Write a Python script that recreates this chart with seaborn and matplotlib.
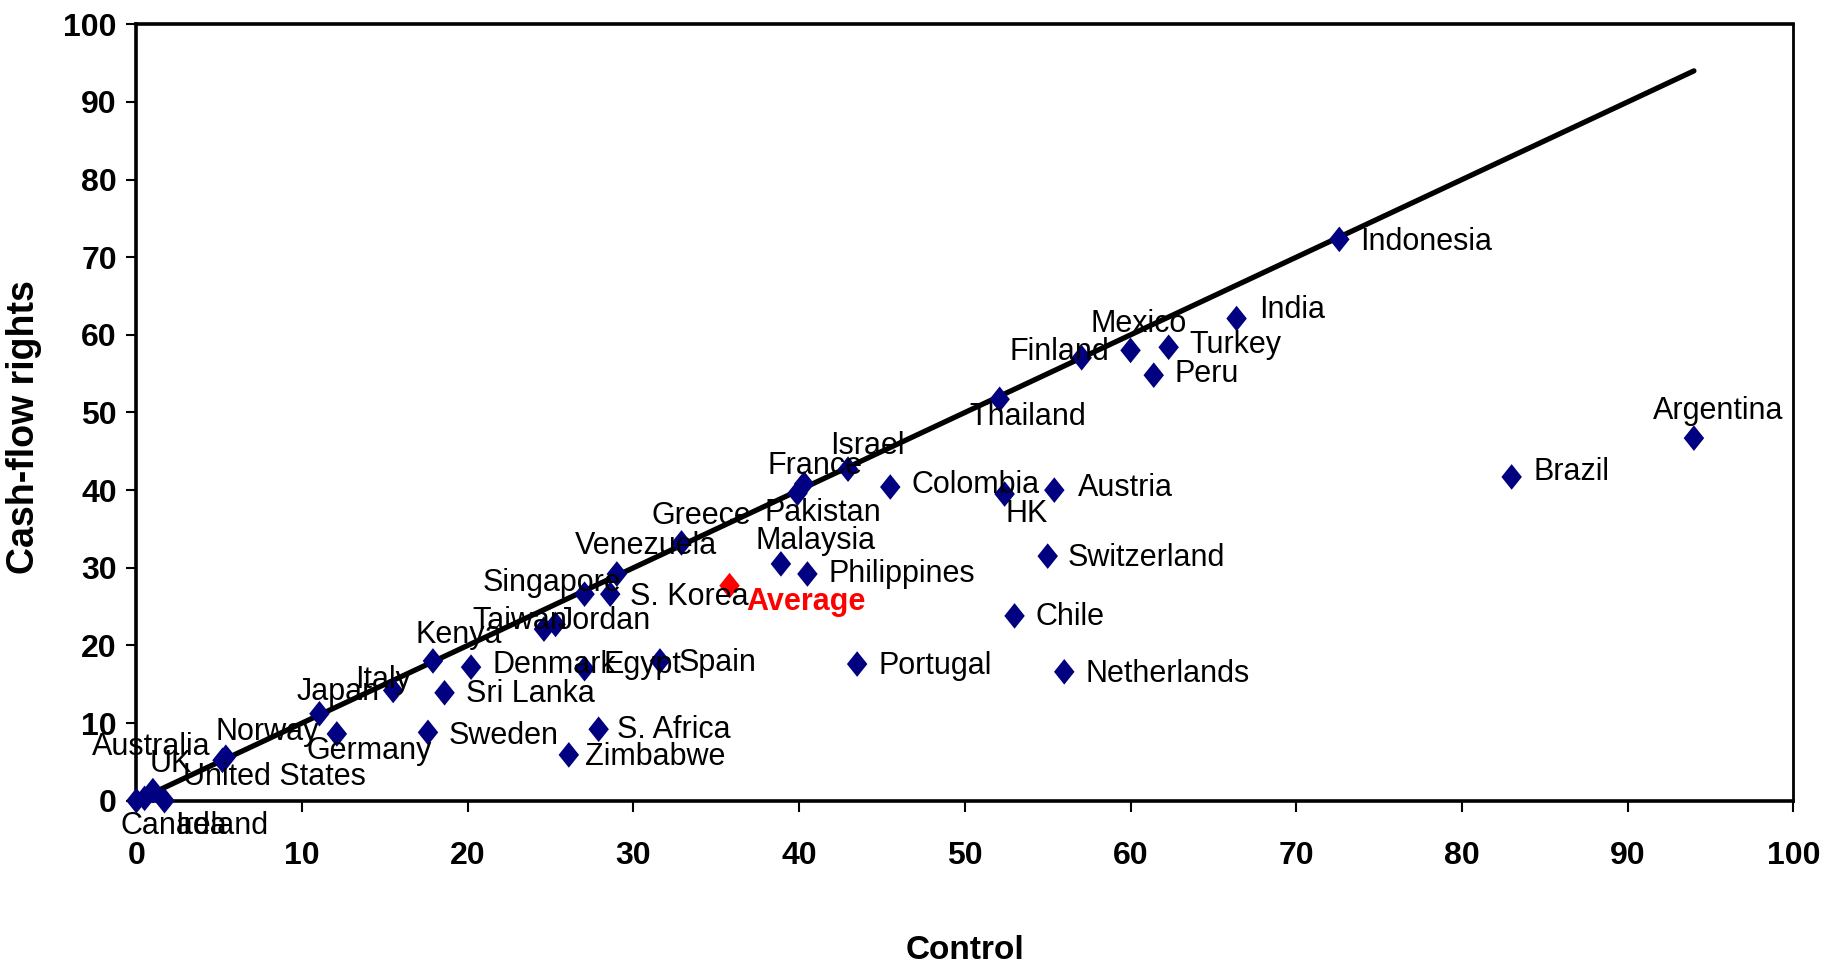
import numpy as np
import pandas as pd
import matplotlib
matplotlib.use("Agg")
import matplotlib.pyplot as plt
import seaborn as sns

# country data: control rights (x) vs cash-flow rights (y)
countries = ["Indonesia", "India", "Mexico", "Turkey", "Finland", "Peru", "Thailand",
             "Argentina", "Brazil", "Israel", "France", "Pakistan", "Colombia", "HK",
             "Austria", "Greece", "Venezuela", "Malaysia", "Philippines", "Switzerland",
             "Singapore", "S. Korea", "Chile", "Taiwan", "Jordan", "Kenya", "Denmark",
             "Egypt", "Spain", "Portugal", "Netherlands", "Sri Lanka", "Japan", "Italy",
             "Germany", "Sweden", "S. Africa", "Zimbabwe", "Norway", "Australia", "UK",
             "United States", "Canada", "Ireland"]
control = [72.6, 66.4, 60.0, 62.3, 57.05, 61.4, 52.1,
           94.0, 83.0, 42.95, 40.3, 39.9, 45.5, 52.4,
           55.4, 32.9, 29.0, 38.9, 40.5, 55.0,
           27.05, 28.6, 53.0, 24.6, 25.3, 17.9, 20.2,
           27.05, 31.6, 43.5, 56.0, 18.6, 11.05, 15.5,
           12.1, 17.6, 27.9, 26.1, 5.4, 5.2, 1.0,
           0.5, 0.0, 1.7]
cashflow = [72.3, 62.1, 58.0, 58.4, 57.05, 54.8, 51.7,
            46.7, 41.7, 42.7, 40.8, 39.6, 40.4, 39.5,
            40.0, 33.2, 29.2, 30.5, 29.2, 31.5,
            26.6, 26.6, 23.8, 22.1, 22.7, 18.0, 17.2,
            17.0, 18.0, 17.6, 16.6, 13.9, 11.2, 14.2,
            8.6, 8.8, 9.2, 5.9, 5.6, 5.2, 1.3,
            0.3, 0.0, 0.0]

avg_control = [35.8]
avg_cashflow = [27.7]

# 45 degree reference line up to the largest control value
line_x = [0, 94]
line_y = [0, 94]

# label offsets (right, up) -- roughly where the labels were dragged to
label_offsets = [(18, -2), (19, 7), (-34, 23), (18, 2), (-62, 5), (18, 1), (-26, -15),
                 (-35, 23), (19, 4), (-15, 20), (-31, 15), (-28, -17), (18, 2), (1, -17),
                 (20, 2), (-26, 23), (-36, 24), (-22, 20), (18, 0), (17, -2),
                 (-87, 10), (17, -2), (18, -1), (-61, 7), (2, 3), (-15, 22), (18, 2),
                 (16, 3), (16, -2), (18, -2), (18, -2), (18, -1), (-20, 19), (-33, 9),
                 (-26, -15), (18, -3), (16, -1), (14, -2), (-9, 22), (-112, 11), (-3, 23),
                 (33, 18), (-14, -22), (9, -22)]
avg_offset = (14, -14)
OFF = 0.84  # offsets above are in screen px of the reduced picture -> points

df = pd.DataFrame({"Control": control, "Cash-flow rights": cashflow, "country": countries})
df_avg = pd.DataFrame({"Control": avg_control, "Cash-flow rights": avg_cashflow})

sns.set_style("white")
plt.rcParams['font.family'] = ['Liberation Sans', 'DejaVu Sans']
plt.rcParams['text.color'] = 'black'
plt.rcParams['axes.labelcolor'] = 'black'
plt.rcParams['xtick.color'] = 'black'
plt.rcParams['ytick.color'] = 'black'

fig = plt.figure(figsize=(18.35, 9.64), dpi=100)
ax = fig.add_axes([0.0743, 0.1694, 0.903, 0.8054])

diamond = [(0, 1), (0.8, 0), (0, -1), (-0.8, 0), (0, 1)]

sns.lineplot(x=line_x, y=line_y, color='black', lw=3.8, ax=ax,
             solid_capstyle='round', zorder=2)
sns.scatterplot(data=df, x="Control", y="Cash-flow rights", marker=diamond,
                s=340, color='#000080', edgecolor='none', linewidth=0, ax=ax, zorder=3)
sns.scatterplot(data=df_avg, x="Control", y="Cash-flow rights", marker=diamond,
                s=340, color='#ff0000', edgecolor='none', linewidth=0, ax=ax, zorder=3)
for c in ax.collections:
    c.set_clip_on(False)

for name, xv, yv, (dx, dy) in zip(countries, control, cashflow, label_offsets):
    ax.annotate(name, (xv, yv), xytext=(dx * OFF, dy * OFF), textcoords='offset points',
                ha='left', va='center', fontsize=22, color='black', zorder=4,
                annotation_clip=False)
ax.annotate("Average", (avg_control[0], avg_cashflow[0]),
            xytext=(avg_offset[0] * OFF, avg_offset[1] * OFF), textcoords='offset points',
            ha='left', va='center', fontsize=22, fontweight='bold', color='#ff0000', zorder=4)

ax.set_xlim(0, 100)
ax.set_ylim(0, 100)
ax.set_xticks(np.arange(0, 101, 10))
ax.set_yticks(np.arange(0, 101, 10))
ax.tick_params(axis='x', direction='out', length=8, width=1.5, pad=21,
               labelsize=23, bottom=True, colors='black')
ax.tick_params(axis='y', direction='out', length=7, width=1.5, pad=7,
               labelsize=23, left=True, colors='black')
for lab in ax.get_xticklabels() + ax.get_yticklabels():
    lab.set_fontweight('bold')

for side in ['left', 'bottom', 'top']:
    ax.spines[side].set_linewidth(2.6)
    ax.spines[side].set_color('black')
ax.spines['right'].set_linewidth(2.0)
ax.spines['right'].set_color('black')

ax.set_xlabel("Control", fontsize=24, fontweight='bold', color='black')
ax.set_ylabel("Cash-flow rights", fontsize=27, fontweight='bold', color='black')
ax.xaxis.set_label_coords(0.5, -0.173)
ax.yaxis.set_label_coords(-0.057, 0.481)

plt.savefig('out.png', dpi=100)
